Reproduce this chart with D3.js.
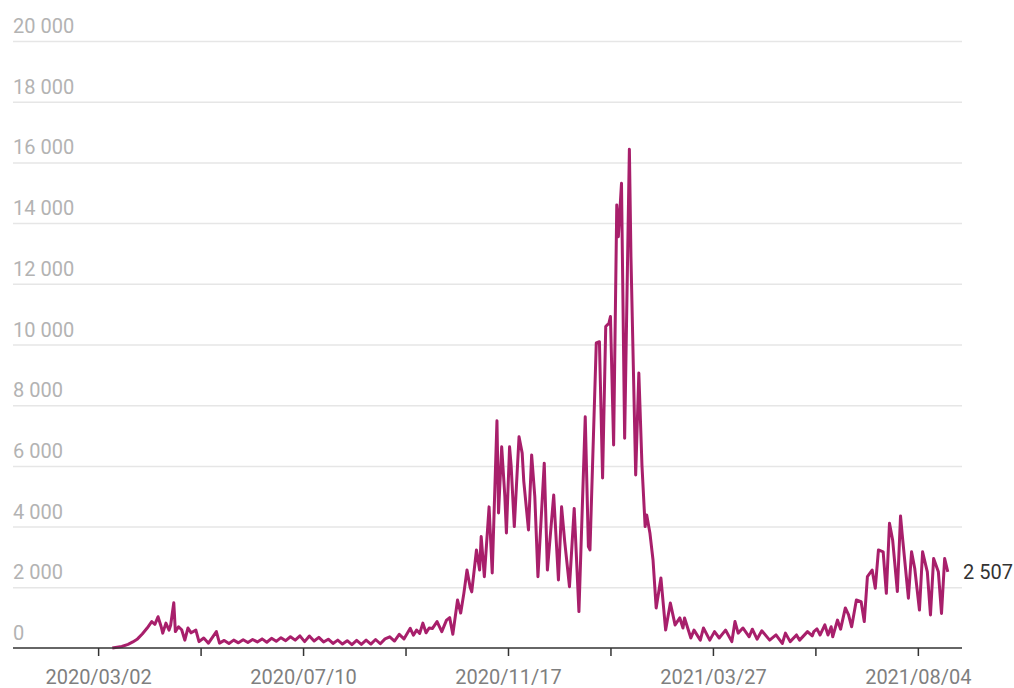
<!DOCTYPE html>
<html>
<head>
<meta charset="utf-8">
<script src="https://cdn.jsdelivr.net/npm/d3@7"></script>
<style>
  html, body { margin: 0; padding: 0; background: #fff; }
  svg { display: block; font-family: Roboto, "Noto Sans", sans-serif; }
</style>
</head>
<body>
<svg id="chart" width="1014" height="688"></svg>
<script>
// ---- data ----
const dates = [
"2020-03-11","2020-03-17","2020-03-21","2020-03-24","2020-03-27","2020-03-30","2020-04-02","2020-04-05","2020-04-07","2020-04-09",
"2020-04-11","2020-04-12","2020-04-14","2020-04-16","2020-04-17","2020-04-19","2020-04-20","2020-04-22","2020-04-24","2020-04-26",
"2020-04-28","2020-04-30","2020-05-03","2020-05-05","2020-05-08","2020-05-11","2020-05-16","2020-05-18","2020-05-21","2020-05-24",
"2020-05-27","2020-05-30","2020-06-02","2020-06-05","2020-06-08","2020-06-11","2020-06-14","2020-06-17","2020-06-20","2020-06-23",
"2020-06-26","2020-06-29","2020-07-02","2020-07-05","2020-07-08","2020-07-11","2020-07-14","2020-07-17","2020-07-20","2020-07-23",
"2020-07-26","2020-07-29","2020-08-01","2020-08-04","2020-08-07","2020-08-10","2020-08-13","2020-08-16","2020-08-19","2020-08-22",
"2020-08-25","2020-08-28","2020-08-31","2020-09-03","2020-09-06","2020-09-09","2020-09-12","2020-09-16","2020-09-18","2020-09-20",
"2020-09-22","2020-09-24","2020-09-26","2020-09-28","2020-09-30","2020-10-03","2020-10-06","2020-10-09","2020-10-11","2020-10-13",
"2020-10-16","2020-10-18","2020-10-20","2020-10-22","2020-10-24","2020-10-25","2020-10-28","2020-10-30","2020-10-31","2020-11-02",
"2020-11-05","2020-11-07","2020-11-10","2020-11-11","2020-11-13","2020-11-15","2020-11-16","2020-11-18","2020-11-19","2020-11-21",
"2020-11-24","2020-11-26","2020-11-27","2020-11-30","2020-12-02","2020-12-04","2020-12-06","2020-12-10","2020-12-12","2020-12-16",
"2020-12-19","2020-12-21","2020-12-23","2020-12-26","2020-12-29","2021-01-01","2021-01-05","2021-01-07","2021-01-08","2021-01-12",
"2021-01-14","2021-01-16","2021-01-18","2021-01-20","2021-01-21","2021-01-23","2021-01-25","2021-01-26","2021-01-28","2021-01-30",
"2021-02-02","2021-02-03","2021-02-06","2021-02-08","2021-02-10","2021-02-12","2021-02-13","2021-02-15","2021-02-17","2021-02-19",
"2021-02-22","2021-02-25","2021-02-28","2021-03-03","2021-03-06","2021-03-08","2021-03-09","2021-03-13","2021-03-15","2021-03-19",
"2021-03-21","2021-03-25","2021-03-28","2021-03-31","2021-04-04","2021-04-08","2021-04-10","2021-04-12","2021-04-15","2021-04-19",
"2021-04-21","2021-04-24","2021-04-27","2021-05-02","2021-05-06","2021-05-10","2021-05-12","2021-05-15","2021-05-19","2021-05-21",
"2021-05-26","2021-05-29","2021-05-30","2021-06-01","2021-06-03","2021-06-06","2021-06-08","2021-06-10","2021-06-11","2021-06-14",
"2021-06-16","2021-06-19","2021-06-21","2021-06-23","2021-06-26","2021-06-29","2021-07-01","2021-07-03","2021-07-06","2021-07-08",
"2021-07-10","2021-07-13","2021-07-15","2021-07-17","2021-07-19","2021-07-22","2021-07-24","2021-07-25","2021-07-29","2021-07-31",
"2021-08-02","2021-08-05","2021-08-07","2021-08-10","2021-08-12","2021-08-14","2021-08-17","2021-08-19","2021-08-21","2021-08-23"
];
const cases = [
0,50,120,200,300,460,650,870,780,1030,
700,490,820,590,750,1490,540,700,600,260,
660,500,590,210,330,160,540,160,250,150,
260,170,270,180,280,200,300,190,320,220,
340,240,370,260,400,210,395,230,350,200,
290,150,260,130,240,110,250,120,260,130,
280,140,300,370,230,450,300,650,420,590,
480,820,500,660,640,870,540,920,1000,450,
1580,1150,1800,2570,2000,1850,3230,2570,3670,2350,
4650,2470,7490,4450,6630,5000,3790,6630,6000,4000,
6960,6420,5500,3890,6360,5000,2350,6090,2570,5040,
2240,4650,3500,2020,4600,1200,7620,3340,3230,10050,
10090,5600,10590,10700,10920,6690,14600,13550,15310,6910,
16432,12890,5700,9060,6000,4000,4380,3800,2900,1320,
2310,590,1480,760,990,660,990,330,590,260,
660,260,540,330,590,210,870,490,660,370,
620,290,570,260,430,150,490,210,430,260,
540,400,540,630,430,760,430,700,370,920,
620,1320,1100,700,1580,1530,870,2350,2570,1970,
3230,3170,1800,4110,3560,1860,4350,3780,1640,3170,
2630,1250,3170,2510,1090,2950,2510,1140,2950,2507
];
const yTicks = [0, 2000, 4000, 6000, 8000, 10000, 12000, 14000, 16000, 18000, 20000];
const xTicks = ["2020-03-02","2020-05-06","2020-07-10","2020-09-13","2020-11-17","2021-01-21","2021-03-27","2021-05-31","2021-08-04"];
const xTickLabels = ["2020/03/02","","2020/07/10","","2020/11/17","","2021/03/27","","2021/08/04"];
const xDomain = ["2020-01-08","2021-09-01"];

// ---- layout ----
const parse = d3.utcParse("%Y-%m-%d");
const padL = 13, padR = 962, padT = 41, padB = 648;
const svg = d3.select("#chart");

const x = d3.scaleUtc().domain(xDomain.map(parse)).range([padL, padR]);
const y = d3.scaleLinear().domain([0, 20000]).range([padB, padT]);

const loc = d3.formatLocale({decimal: ",", thousands: "\u00a0", grouping: [3], currency: ["", ""]});
const fmt = loc.format(",d");

// gridlines + y labels
const gy = svg.append("g");
gy.selectAll("line").data(yTicks.filter(v => v > 0)).join("line")
  .attr("x1", padL).attr("x2", padR)
  .attr("y1", d => y(d) + 0.5).attr("y2", d => y(d) + 0.5)
  .attr("stroke", "#e6e6e6").attr("stroke-width", 1.5);
gy.selectAll("text").data(yTicks).join("text")
  .attr("x", padL).attr("y", d => y(d) - 8)
  .attr("fill", "#b3b3b3").attr("font-size", 20)
  .text(d => fmt(d));

// line
const data = dates.map((d, i) => ({date: parse(d), value: cases[i]}));
const line = d3.line().x(d => x(d.date)).y(d => y(d.value)).curve(d3.curveLinear);
svg.append("path").datum(data)
  .attr("d", line)
  .attr("fill", "none")
  .attr("stroke", "#a81f6b")
  .attr("stroke-width", 3)
  .attr("stroke-linejoin", "round");

// x axis
const xAxis = d3.axisBottom(x)
  .tickValues(xTicks.map(parse))
  .tickSize(8).tickPadding(14)
  .tickFormat((d, i) => xTickLabels[i]);
const gx = svg.append("g").attr("transform", `translate(0,${padB})`).call(xAxis);
gx.select(".domain").attr("stroke", "#333").attr("stroke-width", 1.5).attr("d", `M${padL},0H${padR}`);
gx.selectAll(".tick line").attr("stroke", "#333").attr("stroke-width", 1.5);
gx.selectAll(".tick text").attr("fill", "#7f7f7f").attr("font-size", 20)
  .attr("font-family", "Roboto, 'Noto Sans', sans-serif");

// last value label
const last = data[data.length - 1];
svg.append("text")
  .attr("x", padR + 1).attr("y", y(last.value) + 7)
  .attr("fill", "#333").attr("font-size", 20)
  .text(fmt(last.value));
</script>
</body>
</html>
